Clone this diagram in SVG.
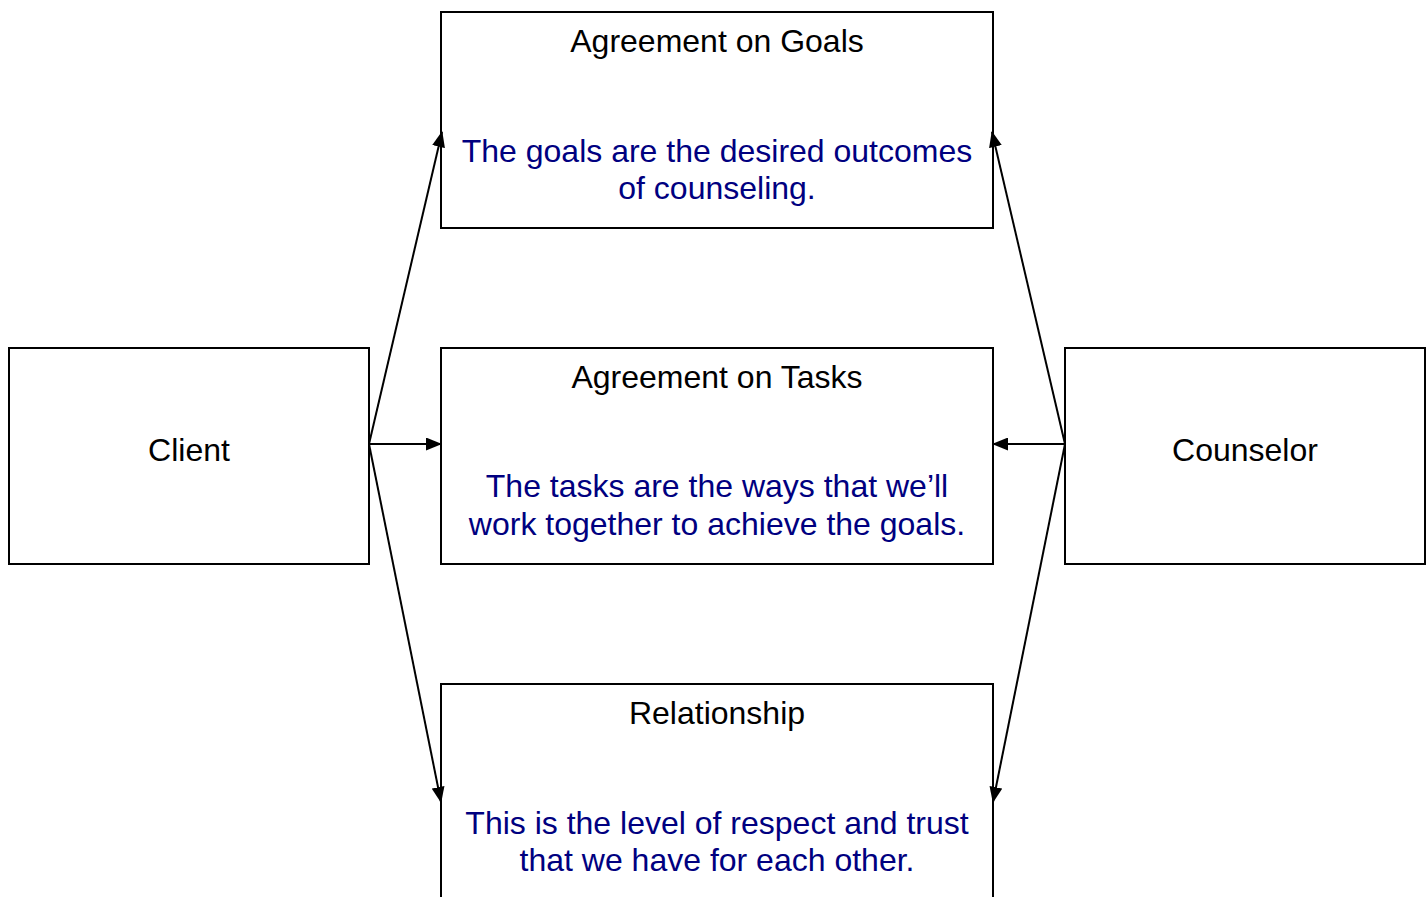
<svg xmlns="http://www.w3.org/2000/svg" width="1427" height="897" viewBox="0 0 1427 897">
<style>
.box{fill:#fff;stroke:#000;stroke-width:2}
.t{font-family:"Liberation Sans",Arial,sans-serif;font-size:32px;fill:#000;text-anchor:middle}
.d{font-family:"Liberation Sans",Arial,sans-serif;font-size:32px;fill:#000080;text-anchor:middle}
.c{stroke:#000;stroke-width:2;fill:none;marker-end:url(#ah)}
</style>
<defs>
<marker id="ah" viewBox="0 0 16 13" refX="15" refY="6.5" markerWidth="16" markerHeight="13" markerUnits="userSpaceOnUse" orient="auto">
<path d="M0,0 L16,6.5 L0,13 z" fill="#000"/>
</marker>
</defs>
<rect width="1427" height="897" fill="#fff"/>
<g id="goals">
<rect class="box" x="441" y="12" width="552" height="216"/>
<text class="t" x="717" y="52">Agreement on Goals</text>
<text class="d" x="717" y="162">The goals are the desired outcomes</text>
<text class="d" x="717" y="199">of counseling.</text>
</g>
<g id="tasks">
<rect class="box" x="441" y="348" width="552" height="216"/>
<text class="t" x="717" y="388">Agreement on Tasks</text>
<text class="d" x="717" y="497">The tasks are the ways that we’ll</text>
<text class="d" x="717" y="535">work together to achieve the goals.</text>
</g>
<g id="relationship">
<rect class="box" x="441" y="684" width="552" height="230"/>
<text class="t" x="717" y="724">Relationship</text>
<text class="d" x="717" y="834">This is the level of respect and trust</text>
<text class="d" x="717" y="871">that we have for each other.</text>
</g>
<g id="client">
<rect class="box" x="9" y="348" width="360" height="216"/>
<text class="t" x="189" y="461">Client</text>
</g>
<g id="counselor">
<rect class="box" x="1065" y="348" width="360" height="216"/>
<text class="t" x="1245" y="461">Counselor</text>
</g>
<g id="connectors">
<line class="c" x1="369" y1="444" x2="442" y2="132"/>
<line class="c" x1="369" y1="444" x2="441" y2="444"/>
<line class="c" x1="369" y1="444" x2="441" y2="802"/>
<line class="c" x1="1065" y1="444" x2="992" y2="132"/>
<line class="c" x1="1065" y1="444" x2="993" y2="444"/>
<line class="c" x1="1065" y1="444" x2="993" y2="802"/>
</g>
</svg>
